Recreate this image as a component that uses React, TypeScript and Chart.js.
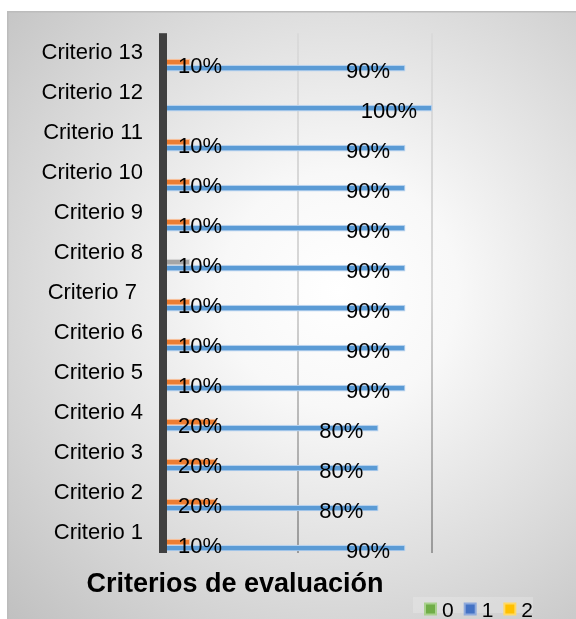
import { useEffect, useRef } from 'react';
import { Chart, registerables } from 'chart.js';

Chart.register(...registerables);

// ---- data (bottom-to-top order as read on the chart) ----
const categories = [
  'Criterio 1', 'Criterio 2', 'Criterio 3', 'Criterio 4', 'Criterio 5',
  'Criterio 6', 'Criterio 7 ', 'Criterio 8', 'Criterio 9', 'Criterio 10',
  'Criterio 11', 'Criterio 12', 'Criterio 13',
];
const seriesNames = ['0', '1', '2'];
const series0: (number | null)[] = [null, null, null, null, null, null, null, null, null, null, null, null, null];
const series1: (number | null)[] = [0.9, 0.8, 0.8, 0.8, 0.9, 0.9, 0.9, 0.9, 0.9, 0.9, 0.9, 1.0, 0.9];
const series2: (number | null)[] = [0.1, 0.2, 0.2, 0.2, 0.1, 0.1, 0.1, 0.1, 0.1, 0.1, 0.1, null, 0.1];
const gridTicks = [0.5, 1.0];
const chartTitle = 'Criterios de evaluación';

// ---- styles ----
const legendColors = ['#70AD47', '#4472C4', '#FFC000'];
const legendBorders = ['#A9D18E', '#8FAADC', '#FFD966'];
const blueCore = '#5B9BD5';
const blueEdge = '#B7D2EE';
const orangeCore = '#ED7D31';
const orangeEdge = '#F6BF9A';
const greyCore = '#A5A5A5';
const greyEdge = '#D5D5D5';
const FONT = '"Liberation Sans", Arial, Helvetica, sans-serif';

const pct = (v: number) => Math.round(v * 100) + '%';

const bgPlugin = {
  id: 'bgPlugin',
  beforeDraw(chart: any) {
    const { ctx, width, height } = chart;
    ctx.save();
    ctx.fillStyle = '#ffffff';
    ctx.fillRect(0, 0, width, height);
    const g = ctx.createRadialGradient(340, 290, 0, 340, 290, 470);
    g.addColorStop(0, '#ffffff');
    g.addColorStop(0.25, '#f8f8f8');
    g.addColorStop(1, '#c0c0c0');
    ctx.fillStyle = g;
    ctx.fillRect(7, 11, width - 7, height - 11);
    ctx.strokeStyle = '#bcbcbc';
    ctx.lineWidth = 1.5;
    ctx.strokeRect(7.75, 11.75, width, height);
    ctx.restore();
  },
};

const overlayPlugin = {
  id: 'overlayPlugin',
  afterDatasetsDraw(chart: any) {
    const { ctx, chartArea } = chart;
    ctx.save();
    // vertical category axis line
    ctx.fillStyle = '#404040';
    ctx.fillRect(chartArea.left - 4, chartArea.top, 8, chartArea.bottom - chartArea.top);

    ctx.fillStyle = '#000000';
    ctx.font = `22px ${FONT}`;
    ctx.textBaseline = 'alphabetic';
    // series "2" labels (orange), left aligned near base
    const m2 = chart.getDatasetMeta(4);
    m2.data.forEach((el: any, i: number) => {
      const v = series2[i];
      if (v == null) return;
      ctx.textAlign = 'left';
      ctx.fillText(pct(v), el.base + 15, el.y + 10.5);
    });
    // series "1" labels (blue), right aligned near bar end
    const m1 = chart.getDatasetMeta(5);
    m1.data.forEach((el: any, i: number) => {
      const v = series1[i];
      if (v == null) return;
      ctx.textAlign = 'right';
      ctx.fillText(pct(v), el.x - 15, el.y + 10);
    });
    ctx.restore();
  },
  afterDraw(chart: any) {
    const { ctx } = chart;
    ctx.save();
    // title
    ctx.fillStyle = '#000000';
    ctx.font = `bold 27px ${FONT}`;
    ctx.textAlign = 'center';
    ctx.textBaseline = 'alphabetic';
    ctx.fillText(chartTitle, 235, 591.5);

    // legend
    ctx.fillStyle = 'rgba(255,255,255,0.2)';
    ctx.fillRect(413, 597, 120, 16);
    ctx.font = `21px ${FONT}`;
    ctx.textAlign = 'left';
    let x = 424;
    const boxTop = 602.5;
    seriesNames.forEach((name, i) => {
      ctx.fillStyle = legendBorders[i];
      ctx.fillRect(x, boxTop, 13, 13);
      ctx.fillStyle = legendColors[i];
      ctx.fillRect(x + 2, boxTop + 2, 9, 9);
      ctx.fillStyle = '#000000';
      const tx = x + 18;
      ctx.fillText(name, tx, 616.5);
      x = tx + ctx.measureText(name).width + 10;
    });
    ctx.restore();
  },
};

export default function App() {
  const ref = useRef<HTMLCanvasElement | null>(null);

  useEffect(() => {
    if (!ref.current) return;
    const spacer = (label: string) => ({
      label,
      data: categories.map(() => null),
      backgroundColor: 'rgba(0,0,0,0)',
      borderWidth: 0,
    });
    const chart = new Chart(ref.current, {
      type: 'bar',
      data: {
        labels: categories,
        datasets: [
          {
            label: seriesNames[0],
            data: series0,
            backgroundColor: legendColors[0],
            borderWidth: 0,
          },
          spacer('_a'),
          spacer('_b'),
          spacer('_c'),
          {
            label: seriesNames[2],
            data: series2,
            backgroundColor: series2.map((_, i) => (i === 7 ? greyCore : orangeCore)),
            borderColor: series2.map((_, i) => (i === 7 ? greyEdge : orangeEdge)),
            borderWidth: 1.2,
          },
          {
            label: seriesNames[1],
            data: series1,
            backgroundColor: blueCore,
            borderColor: blueEdge,
            borderWidth: 1.2,
          },
        ] as any,
      },
      options: {
        indexAxis: 'y',
        animation: false,
        responsive: true,
        maintainAspectRatio: false,
        events: [],
        datasets: { bar: { barThickness: 6 } } as any,
        layout: { padding: { left: 0, top: 21, right: 9.5, bottom: 66 } },
        scales: {
          x: {
            min: 0,
            max: 1.5,
            afterBuildTicks: (s: any) => {
              s.ticks = gridTicks.map((v) => ({ value: v }));
            },
            ticks: { display: false },
            border: { display: false },
            grid: {
              drawTicks: false,
              lineWidth: 2,
              color: (c: any) => {
                const area = c.chart.chartArea;
                if (!area) return '#cccccc';
                const g = c.chart.ctx.createLinearGradient(0, area.top, 0, area.bottom);
                g.addColorStop(0, '#dadada');
                g.addColorStop(0.5, '#d6d6d6');
                g.addColorStop(1, '#9a9a9a');
                return g;
              },
            },
            afterFit: (s: any) => {
              s.height = 0;
            },
          },
          y: {
            reverse: true,
            grid: { display: false, drawTicks: false },
            border: { display: false },
            ticks: {
              color: '#000000',
              padding: 20,
              font: { family: FONT, size: 22 },
            },
            afterFit: (s: any) => {
              s.width = 163;
            },
          },
        },
        plugins: {
          legend: { display: false },
          title: { display: false },
          tooltip: { enabled: false },
        },
      } as any,
      plugins: [bgPlugin, overlayPlugin],
    });
    return () => chart.destroy();
  }, []);

  return (
    <div style={{ position: 'absolute', left: 0, top: 0, width: 576, height: 619 }}>
      <canvas ref={ref} />
    </div>
  );
}
